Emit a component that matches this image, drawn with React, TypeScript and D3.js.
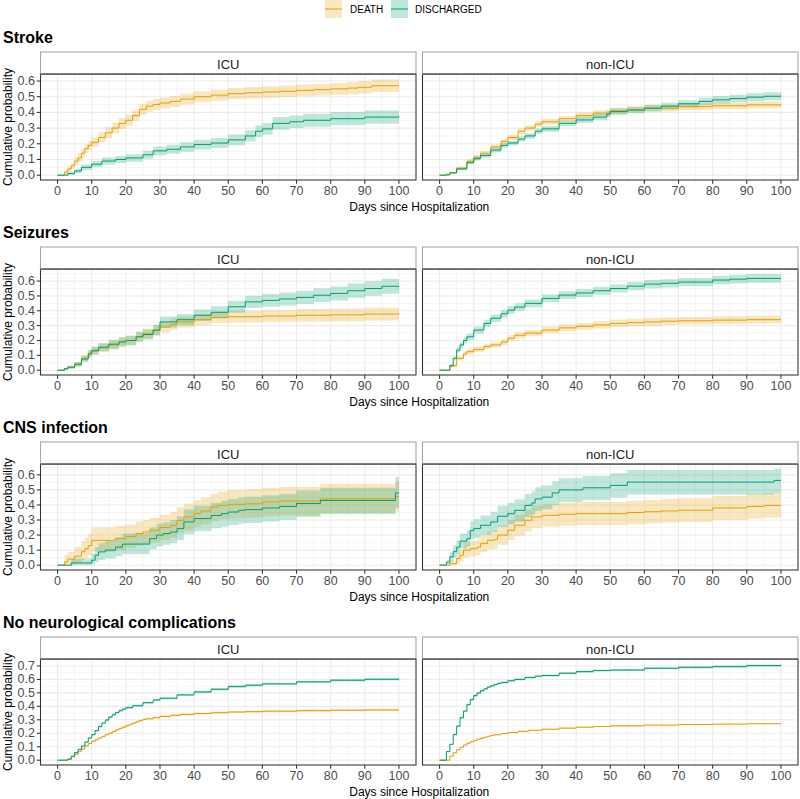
import React from "react";
import * as d3 from "d3";

// each row: [day, estimate, lower, upper]
const strokeIcuDeath = [[0,0,0,0],[2,0.02,0.005,0.035],[3,0.04,0.02,0.06],[4,0.06,0.04,0.08],[5,0.09,0.065,0.115],[6,0.11,0.085,0.14],[7,0.14,0.11,0.17],[8,0.17,0.14,0.2],[9,0.19,0.16,0.22],[10,0.21,0.18,0.24],[12,0.24,0.21,0.275],[14,0.27,0.235,0.305],[16,0.3,0.265,0.335],[18,0.33,0.295,0.365],[20,0.35,0.315,0.385],[22,0.38,0.345,0.415],[24,0.42,0.385,0.455],[26,0.44,0.405,0.475],[28,0.45,0.415,0.485],[30,0.46,0.425,0.495],[33,0.47,0.435,0.505],[36,0.485,0.45,0.52],[40,0.5,0.465,0.535],[45,0.51,0.475,0.545],[50,0.52,0.484,0.556],[55,0.525,0.489,0.562],[60,0.53,0.493,0.567],[65,0.535,0.498,0.572],[70,0.54,0.503,0.578],[75,0.545,0.507,0.583],[80,0.55,0.512,0.588],[85,0.555,0.516,0.594],[88,0.56,0.521,0.6],[92,0.57,0.53,0.61],[100,0.572,0.531,0.614]];
const strokeIcuDischarged = [[0,0,0,0],[2,0,0,0],[3,0.01,0.002,0.02],[5,0.027,0.013,0.04],[7,0.05,0.032,0.068],[10,0.07,0.05,0.09],[13,0.09,0.068,0.112],[17,0.1,0.077,0.123],[20,0.11,0.086,0.134],[25,0.13,0.104,0.156],[28,0.155,0.127,0.183],[32,0.165,0.136,0.194],[36,0.18,0.15,0.21],[40,0.195,0.164,0.226],[45,0.205,0.173,0.237],[50,0.225,0.191,0.259],[55,0.25,0.214,0.286],[58,0.28,0.243,0.317],[60,0.295,0.257,0.333],[63,0.33,0.29,0.37],[68,0.34,0.3,0.38],[72,0.35,0.309,0.391],[80,0.36,0.318,0.402],[90,0.37,0.328,0.412],[100,0.375,0.333,0.417]];
const strokeNonDeath = [[0,0,0,0],[2,0,0,0],[3,0.015,0.01,0.02],[5,0.045,0.035,0.055],[8,0.09,0.078,0.102],[10,0.115,0.102,0.128],[12,0.14,0.126,0.154],[15,0.18,0.165,0.195],[18,0.215,0.199,0.231],[20,0.24,0.224,0.256],[23,0.28,0.263,0.297],[25,0.3,0.283,0.317],[28,0.325,0.307,0.343],[30,0.34,0.322,0.358],[35,0.36,0.342,0.378],[40,0.38,0.361,0.399],[45,0.395,0.376,0.414],[50,0.41,0.39,0.43],[55,0.418,0.398,0.438],[60,0.427,0.407,0.447],[70,0.437,0.416,0.458],[80,0.442,0.421,0.463],[90,0.448,0.427,0.469],[100,0.452,0.43,0.474]];
const strokeNonDischarged = [[0,0,0,0],[1,0,0,0],[2,0.005,0.002,0.008],[3,0.015,0.01,0.02],[5,0.04,0.032,0.048],[8,0.08,0.069,0.091],[10,0.105,0.093,0.117],[12,0.125,0.112,0.138],[15,0.16,0.146,0.174],[18,0.19,0.175,0.205],[20,0.205,0.19,0.22],[23,0.23,0.214,0.246],[25,0.25,0.233,0.267],[28,0.28,0.262,0.298],[30,0.295,0.277,0.313],[35,0.33,0.311,0.349],[40,0.352,0.332,0.372],[45,0.37,0.35,0.39],[49,0.39,0.37,0.41],[50,0.405,0.384,0.426],[55,0.415,0.394,0.436],[60,0.427,0.405,0.449],[65,0.44,0.418,0.462],[70,0.455,0.432,0.478],[76,0.47,0.447,0.493],[80,0.48,0.456,0.504],[85,0.488,0.464,0.512],[90,0.497,0.472,0.522],[95,0.503,0.478,0.528],[100,0.507,0.482,0.532]];

const seizIcuDeath = [[0,0,0,0],[1,0,0,0],[2,0.01,0.003,0.017],[3,0.02,0.01,0.03],[5,0.04,0.025,0.055],[7,0.08,0.06,0.1],[9,0.115,0.09,0.14],[10,0.135,0.108,0.162],[12,0.15,0.122,0.178],[15,0.17,0.14,0.2],[18,0.19,0.159,0.221],[20,0.2,0.168,0.232],[23,0.225,0.192,0.258],[25,0.245,0.211,0.279],[28,0.27,0.235,0.305],[30,0.29,0.254,0.326],[33,0.31,0.274,0.346],[35,0.325,0.288,0.362],[40,0.34,0.302,0.378],[45,0.355,0.316,0.394],[50,0.36,0.32,0.4],[60,0.365,0.324,0.406],[70,0.37,0.328,0.412],[80,0.373,0.33,0.416],[90,0.378,0.334,0.422],[100,0.382,0.336,0.428]];
const seizIcuDischarged = [[0,0,0,0],[1,0,0,0],[2,0.01,0.003,0.017],[3,0.02,0.01,0.03],[5,0.04,0.025,0.055],[7,0.075,0.055,0.095],[9,0.11,0.086,0.134],[10,0.13,0.104,0.156],[12,0.155,0.127,0.183],[15,0.175,0.145,0.205],[18,0.19,0.159,0.221],[20,0.2,0.168,0.232],[23,0.225,0.192,0.258],[25,0.24,0.206,0.274],[28,0.27,0.234,0.306],[30,0.325,0.288,0.362],[35,0.34,0.302,0.378],[40,0.37,0.331,0.409],[45,0.39,0.35,0.43],[50,0.427,0.386,0.468],[55,0.46,0.418,0.502],[60,0.47,0.427,0.513],[65,0.48,0.436,0.524],[70,0.49,0.445,0.535],[75,0.505,0.459,0.551],[80,0.517,0.47,0.564],[85,0.535,0.487,0.583],[90,0.55,0.501,0.599],[95,0.565,0.515,0.615],[100,0.567,0.516,0.618]];
const seizNonDeath = [[0,0,0,0],[2,0,0,0],[3,0.03,0.02,0.04],[5,0.08,0.066,0.094],[7,0.11,0.095,0.125],[8,0.125,0.109,0.141],[10,0.14,0.123,0.157],[13,0.16,0.142,0.178],[15,0.17,0.152,0.188],[18,0.19,0.171,0.209],[20,0.215,0.195,0.235],[22,0.235,0.214,0.256],[25,0.25,0.229,0.271],[30,0.27,0.248,0.292],[35,0.285,0.262,0.308],[40,0.295,0.272,0.318],[45,0.305,0.281,0.329],[50,0.315,0.291,0.339],[55,0.32,0.296,0.344],[60,0.325,0.3,0.35],[65,0.33,0.305,0.355],[70,0.333,0.308,0.358],[80,0.337,0.311,0.363],[90,0.34,0.314,0.366],[100,0.342,0.316,0.368]];
const seizNonDischarged = [[0,0,0,0],[2,0,0,0],[3,0.03,0.02,0.04],[4,0.08,0.066,0.094],[5,0.135,0.117,0.153],[6,0.17,0.15,0.19],[7,0.2,0.179,0.221],[8,0.225,0.203,0.247],[10,0.27,0.247,0.293],[13,0.315,0.291,0.339],[15,0.35,0.325,0.375],[18,0.38,0.355,0.405],[20,0.405,0.38,0.43],[22,0.425,0.4,0.45],[25,0.45,0.424,0.476],[30,0.483,0.457,0.509],[35,0.506,0.48,0.532],[40,0.52,0.493,0.547],[45,0.535,0.508,0.562],[50,0.55,0.523,0.577],[55,0.566,0.538,0.594],[60,0.58,0.552,0.608],[65,0.585,0.557,0.613],[70,0.593,0.565,0.621],[80,0.607,0.578,0.636],[85,0.613,0.584,0.642],[90,0.618,0.589,0.647],[100,0.619,0.59,0.649]];

const cnsIcuDeath = [[0,0,0,0],[2,0.022,0,0.07],[3,0.04,0.005,0.09],[5,0.06,0.015,0.12],[7,0.09,0.035,0.16],[8,0.11,0.05,0.18],[9,0.13,0.065,0.21],[10,0.165,0.09,0.25],[16,0.165,0.09,0.25],[17,0.176,0.1,0.26],[20,0.19,0.115,0.27],[23,0.21,0.13,0.29],[25,0.22,0.14,0.3],[27,0.232,0.15,0.315],[30,0.25,0.165,0.335],[33,0.265,0.18,0.355],[35,0.298,0.21,0.385],[37,0.32,0.23,0.41],[40,0.342,0.255,0.43],[42,0.36,0.27,0.45],[45,0.386,0.295,0.475],[47,0.397,0.305,0.49],[50,0.404,0.31,0.5],[55,0.408,0.315,0.505],[60,0.42,0.325,0.515],[65,0.426,0.33,0.52],[77,0.44,0.345,0.54],[99,0.455,0.355,0.555],[100,0.455,0.355,0.555]];
const cnsIcuDischarged = [[0,0,0,0],[3,0,0,0],[4,0.015,0,0.045],[10,0.033,0.005,0.08],[11,0.066,0.02,0.12],[12,0.088,0.035,0.145],[14,0.1,0.045,0.16],[17,0.12,0.06,0.185],[19,0.14,0.075,0.21],[25,0.14,0.075,0.21],[27,0.176,0.105,0.25],[29,0.2,0.125,0.275],[31,0.21,0.135,0.285],[33,0.22,0.145,0.3],[35,0.243,0.165,0.325],[37,0.287,0.205,0.37],[40,0.31,0.225,0.395],[45,0.33,0.245,0.415],[48,0.342,0.255,0.43],[50,0.353,0.265,0.44],[53,0.364,0.275,0.45],[55,0.369,0.28,0.455],[60,0.38,0.29,0.465],[65,0.39,0.3,0.475],[70,0.41,0.32,0.495],[77,0.43,0.34,0.515],[99,0.48,0.38,0.585],[100,0.48,0.38,0.585]];
const cnsNonDeath = [[0,0,0,0],[2,0,0,0],[3,0.01,0,0.03],[5,0.044,0.01,0.08],[6,0.066,0.025,0.105],[7,0.1,0.05,0.15],[9,0.11,0.06,0.16],[11,0.12,0.068,0.172],[12,0.143,0.088,0.198],[14,0.165,0.105,0.225],[16,0.17,0.11,0.23],[17,0.2,0.135,0.265],[20,0.232,0.165,0.3],[22,0.265,0.195,0.335],[25,0.298,0.225,0.37],[27,0.32,0.245,0.395],[30,0.331,0.255,0.405],[35,0.338,0.262,0.414],[40,0.342,0.265,0.419],[50,0.342,0.265,0.419],[55,0.35,0.272,0.428],[60,0.355,0.277,0.433],[65,0.36,0.281,0.439],[70,0.365,0.286,0.444],[80,0.38,0.3,0.46],[90,0.39,0.308,0.472],[95,0.397,0.315,0.479],[100,0.397,0.315,0.479]];
const cnsNonDischarged = [[0,0,0,0],[1,0,0,0],[2,0.02,0.005,0.035],[3,0.055,0.025,0.085],[4,0.09,0.05,0.13],[5,0.12,0.075,0.165],[6,0.16,0.11,0.21],[8,0.176,0.125,0.23],[9,0.23,0.17,0.29],[10,0.243,0.18,0.305],[12,0.265,0.2,0.33],[15,0.287,0.22,0.355],[17,0.325,0.255,0.395],[20,0.342,0.27,0.415],[22,0.364,0.29,0.438],[25,0.397,0.32,0.472],[27,0.413,0.335,0.49],[28,0.44,0.36,0.518],[30,0.452,0.372,0.53],[33,0.48,0.4,0.558],[35,0.5,0.42,0.578],[42,0.514,0.433,0.593],[50,0.53,0.449,0.61],[55,0.552,0.47,0.632],[98,0.563,0.48,0.64],[100,0.563,0.48,0.64]];

const noneIcuDeath = [[0,0,0,0],[2,0,0,0],[3,0.01,0.008,0.012],[4,0.025,0.022,0.028],[5,0.044,0.04,0.048],[6,0.065,0.06,0.07],[7,0.085,0.08,0.09],[8,0.105,0.1,0.11],[9,0.124,0.118,0.13],[10,0.14,0.134,0.146],[11,0.152,0.146,0.158],[12,0.165,0.159,0.171],[13,0.177,0.171,0.183],[14,0.19,0.184,0.196],[15,0.2,0.193,0.207],[16,0.213,0.206,0.22],[17,0.225,0.218,0.232],[18,0.236,0.229,0.243],[19,0.246,0.239,0.253],[20,0.256,0.249,0.263],[21,0.266,0.259,0.273],[22,0.276,0.268,0.284],[23,0.286,0.278,0.294],[24,0.295,0.287,0.303],[25,0.303,0.295,0.311],[26,0.308,0.3,0.316],[28,0.316,0.308,0.324],[30,0.325,0.317,0.333],[33,0.333,0.325,0.341],[36,0.34,0.332,0.348],[40,0.347,0.339,0.355],[45,0.353,0.345,0.361],[50,0.358,0.35,0.366],[55,0.361,0.353,0.369],[60,0.364,0.356,0.372],[70,0.368,0.36,0.376],[80,0.371,0.363,0.379],[90,0.373,0.365,0.381],[100,0.374,0.366,0.382]];
const noneIcuDischarged = [[0,0,0,0],[2,0,0,0],[3,0.007,0.005,0.009],[4,0.03,0.027,0.033],[5,0.056,0.052,0.06],[6,0.08,0.075,0.085],[7,0.105,0.1,0.11],[8,0.135,0.129,0.141],[9,0.165,0.159,0.171],[10,0.19,0.184,0.196],[11,0.22,0.213,0.227],[12,0.25,0.243,0.257],[13,0.275,0.268,0.282],[14,0.298,0.29,0.306],[15,0.32,0.312,0.328],[16,0.338,0.33,0.346],[17,0.354,0.346,0.362],[18,0.368,0.36,0.376],[19,0.38,0.372,0.388],[20,0.39,0.382,0.398],[22,0.405,0.397,0.413],[25,0.427,0.419,0.435],[28,0.447,0.439,0.455],[30,0.46,0.452,0.468],[35,0.485,0.477,0.493],[40,0.507,0.498,0.516],[45,0.527,0.518,0.536],[50,0.547,0.538,0.556],[55,0.557,0.548,0.566],[60,0.567,0.558,0.576],[70,0.582,0.573,0.591],[80,0.594,0.585,0.603],[90,0.601,0.592,0.61],[100,0.608,0.599,0.617]];
const noneNonDeath = [[0,0,0,0],[2,0,0,0],[3,0.03,0.027,0.033],[4,0.055,0.051,0.059],[5,0.078,0.074,0.082],[6,0.097,0.093,0.101],[7,0.113,0.109,0.117],[8,0.126,0.122,0.13],[9,0.137,0.133,0.141],[10,0.147,0.143,0.151],[11,0.156,0.152,0.16],[12,0.164,0.16,0.168],[13,0.171,0.167,0.175],[14,0.178,0.174,0.182],[15,0.184,0.18,0.188],[16,0.189,0.185,0.193],[18,0.198,0.194,0.202],[20,0.205,0.201,0.209],[23,0.214,0.21,0.218],[26,0.222,0.218,0.226],[30,0.23,0.226,0.234],[35,0.238,0.234,0.242],[40,0.245,0.241,0.249],[45,0.25,0.246,0.254],[50,0.255,0.251,0.259],[60,0.261,0.257,0.265],[70,0.265,0.261,0.269],[80,0.268,0.264,0.272],[90,0.271,0.267,0.275],[100,0.273,0.269,0.277]];
const noneNonDischarged = [[0,0,0,0],[1,0,0,0],[2,0.064,0.06,0.068],[3,0.118,0.113,0.123],[4,0.19,0.184,0.196],[5,0.253,0.246,0.26],[6,0.315,0.308,0.322],[7,0.364,0.357,0.371],[8,0.413,0.405,0.421],[9,0.45,0.442,0.458],[10,0.48,0.472,0.488],[11,0.5,0.492,0.508],[12,0.516,0.508,0.524],[13,0.53,0.522,0.538],[14,0.543,0.535,0.551],[15,0.553,0.545,0.561],[16,0.562,0.554,0.57],[17,0.57,0.562,0.578],[18,0.577,0.569,0.585],[20,0.59,0.582,0.598],[22,0.6,0.592,0.608],[25,0.614,0.606,0.622],[28,0.624,0.616,0.632],[30,0.629,0.621,0.637],[35,0.646,0.638,0.654],[40,0.658,0.65,0.666],[45,0.666,0.658,0.674],[50,0.67,0.662,0.678],[60,0.683,0.675,0.691],[70,0.69,0.682,0.698],[80,0.695,0.687,0.703],[90,0.703,0.695,0.711],[100,0.708,0.7,0.716]];

const complications = ["Stroke", "Seizures", "CNS infection", "No neurological complications"];
const wards = ["ICU", "non-ICU"];
const outcomes = ["DEATH", "DISCHARGED"];
const xTicks = [0, 10, 20, 30, 40, 50, 60, 70, 80, 90, 100];

const curves = [
  [[strokeIcuDeath, strokeIcuDischarged], [strokeNonDeath, strokeNonDischarged]],
  [[seizIcuDeath, seizIcuDischarged], [seizNonDeath, seizNonDischarged]],
  [[cnsIcuDeath, cnsIcuDischarged], [cnsNonDeath, cnsNonDischarged]],
  [[noneIcuDeath, noneIcuDischarged], [noneNonDeath, noneNonDischarged]],
];

const colors = { DEATH: "#E69F00", DISCHARGED: "#009E73" };
const font = "'Liberation Sans', Arial, Helvetica, sans-serif";

const W = 800, H = 799;
const panelW = 375.5;
const panelX = [40.5, 422.5];
const stripH = 22;
const panelH = 106;
const rowStep = 195;
const firstStrip = 52;

function Row({ idx }) {
  const stripTop = firstStrip + rowStep * idx;
  const top = stripTop + stripH;
  const bottom = top + panelH;
  const rowCurves = curves[idx];
  const yMax = d3.max(rowCurves.flat(), (c) => d3.max(c, (d) => d[3]));
  const y = d3.scaleLinear().domain([-0.05 * yMax, 1.05 * yMax]).range([bottom, top]);
  const [y0, y1] = y.domain();
  const yMajor = y.ticks(7).filter((t) => t >= 0 && t <= y1);
  const yMinor = yMajor.map((t) => t + 0.05).concat([yMajor[0] - 0.05]).filter((t) => t > y0 && t < y1);

  return (
    <g>
      <text x={3} y={stripTop - 15} dominantBaseline="central" fontSize={16} fontWeight="bold" fill="#000">
        {complications[idx]}
      </text>
      <text
        transform={`translate(8, ${(top + bottom) / 2}) rotate(-90)`}
        textAnchor="middle"
        dominantBaseline="central"
        fontSize={12}
        fill="#000"
      >
        Cumulative probability
      </text>
      {wards.map((ward, wi) => {
        const x = d3.scaleLinear().domain([-5, 105]).range([panelX[wi], panelX[wi] + panelW]);
        const xMinor = xTicks.slice(0, -1).map((t) => t + 5);
        const area = d3
          .area()
          .x((d) => x(d[0]))
          .y0((d) => y(d[2]))
          .y1((d) => y(d[3]))
          .curve(d3.curveStepAfter);
        const line = d3
          .line()
          .x((d) => x(d[0]))
          .y((d) => y(d[1]))
          .curve(d3.curveStepAfter);
        return (
          <g key={ward}>
            <rect x={panelX[wi]} y={top} width={panelW} height={panelH} fill="#fff" />
            {yMinor.map((t) => (
              <line key={"ym" + t} x1={panelX[wi]} x2={panelX[wi] + panelW} y1={y(t)} y2={y(t)} stroke="#EBEBEB" strokeWidth={0.55} />
            ))}
            {xMinor.map((t) => (
              <line key={"xm" + t} x1={x(t)} x2={x(t)} y1={top} y2={bottom} stroke="#EBEBEB" strokeWidth={0.55} />
            ))}
            {yMajor.map((t) => (
              <line key={"yM" + t} x1={panelX[wi]} x2={panelX[wi] + panelW} y1={y(t)} y2={y(t)} stroke="#EBEBEB" strokeWidth={1.07} />
            ))}
            {xTicks.map((t) => (
              <line key={"xM" + t} x1={x(t)} x2={x(t)} y1={top} y2={bottom} stroke="#EBEBEB" strokeWidth={1.07} />
            ))}
            {rowCurves[wi].map((c, ci) => (
              <path key={"a" + ci} d={area(c)} fill={colors[outcomes[ci]]} fillOpacity={0.25} stroke="none" />
            ))}
            {rowCurves[wi].map((c, ci) => (
              <path key={"l" + ci} d={line(c)} fill="none" stroke={colors[outcomes[ci]]} strokeWidth={1} />
            ))}
            <rect x={panelX[wi]} y={top} width={panelW} height={panelH} fill="none" stroke="#333333" strokeWidth={1.07} />
            <rect x={panelX[wi]} y={stripTop} width={panelW} height={stripH} fill="#fff" stroke="#A6A6A6" strokeWidth={1.07} />
            <line x1={panelX[wi]} x2={panelX[wi] + panelW} y1={top} y2={top} stroke="#333333" strokeWidth={1.07} />
            <text x={panelX[wi] + panelW / 2} y={stripTop + stripH / 2 + 1} textAnchor="middle" dominantBaseline="central" fontSize={13} fill="#1A1A1A">
              {ward}
            </text>
            {xTicks.map((t) => (
              <g key={"xt" + t}>
                <line x1={x(t)} x2={x(t)} y1={bottom} y2={bottom + 3.7} stroke="#333333" strokeWidth={1.07} />
                <text x={x(t)} y={bottom + 11} textAnchor="middle" dominantBaseline="central" fontSize={12.5} fill="#4D4D4D">
                  {t}
                </text>
              </g>
            ))}
            {wi === 0 &&
              yMajor.map((t) => (
                <g key={"yt" + t}>
                  <line x1={panelX[wi] - 3.7} x2={panelX[wi]} y1={y(t)} y2={y(t)} stroke="#333333" strokeWidth={1.07} />
                  <text x={panelX[wi] - 5.5} y={y(t)} textAnchor="end" dominantBaseline="central" fontSize={12.5} fill="#4D4D4D">
                    {d3.format(".1f")(t)}
                  </text>
                </g>
              ))}
          </g>
        );
      })}
      <text x={(panelX[0] + panelX[1] + panelW) / 2} y={stripTop + 155} textAnchor="middle" dominantBaseline="central" fontSize={12} fill="#000">
        Days since Hospitalization
      </text>
    </g>
  );
}

function Legend() {
  const keys = [
    { label: outcomes[0], x: 325, tx: 350 },
    { label: outcomes[1], x: 391, tx: 415 },
  ];
  return (
    <g>
      {keys.map((k) => (
        <g key={k.label}>
          <rect x={k.x} y={0} width={17} height={18} fill={colors[k.label]} fillOpacity={0.25} />
          <line x1={k.x} x2={k.x + 17} y1={9} y2={9} stroke={colors[k.label]} strokeWidth={1} />
          <text x={k.tx} y={9.5} dominantBaseline="central" fontSize={10} fill="#000">
            {k.label}
          </text>
        </g>
      ))}
    </g>
  );
}

export default function App() {
  return (
    <div style={{ position: "absolute", left: 0, top: 0 }}>
      <svg width={W} height={H} style={{ display: "block", background: "#fff", fontFamily: font }}>
        <Legend />
        {complications.map((c, i) => (
          <Row key={c} idx={i} />
        ))}
      </svg>
    </div>
  );
}
